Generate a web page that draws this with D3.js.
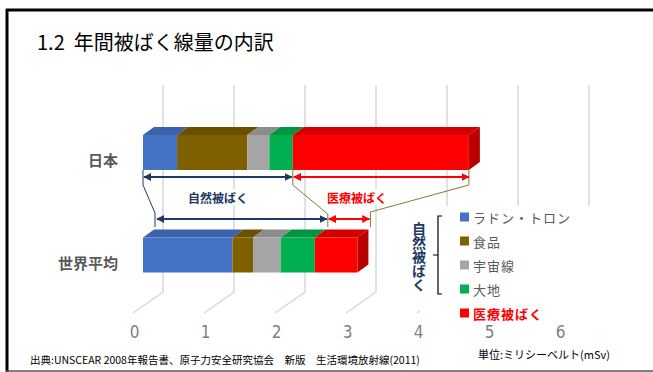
<!DOCTYPE html>
<html lang="ja">
<head>
<meta charset="UTF-8">
<title>年間被ばく線量の内訳</title>
<script src="https://cdn.jsdelivr.net/npm/d3@7"></script>
<style>
  body { margin: 0; background: #fff; }
  text { font-family: "Noto Sans CJK JP", "Noto Sans", sans-serif; }
</style>
</head>
<body>
<script>
  // data (mSv)
  const categories = ["日本", "世界平均"];
  const sources = ["ラドン・トロン", "食品", "宇宙線", "大地", "医療被ばく"];
  const japan = [0.48, 0.99, 0.31, 0.33, 2.48];
  const world = [1.26, 0.29, 0.39, 0.48, 0.60];
  const ticks = [0, 1, 2, 3, 4, 5, 6];
  const naturalCount = 4; // first four sources are natural

  const frontColors = ["#4472c4", "#7f6000", "#a5a5a5", "#00b050", "#ff0000"];
  const topColors = ["#3a62ad", "#6a5000", "#8c8c8c", "#00963f", "#d40000"];
  const sideColor = "#b80000";
  const navy = "#203864";
  const olive = "#8c7332";

  const W = 653, H = 372;
  const depth = { dx: 11, dy: -8 };

  const svg = d3.select("body").append("svg")
    .attr("width", W).attr("height", H);

  const x = d3.scaleLinear().domain([0, 6]).range([143, 143 + 6 * 71]);
  const y = d3.scalePoint().domain(categories).range([152.5, 255]);
  const barH = 35;

  // frame
  svg.append("line").attr("x1", 7).attr("x2", 7).attr("y1", 9).attr("y2", H)
    .attr("stroke", "#000").attr("stroke-width", 3);
  svg.append("line").attr("x1", 6).attr("x2", W).attr("y1", 10).attr("y2", 10)
    .attr("stroke", "#000").attr("stroke-width", 3);
  svg.append("line").attr("x1", 6).attr("x2", W).attr("y1", 371).attr("y2", 371)
    .attr("stroke", "#555").attr("stroke-width", 1.5);

  svg.append("text").attr("x", 37).attr("y", 41)
    .attr("dominant-baseline", "central")
    .attr("font-size", 20).attr("fill", "#000")
    .text("1.2\u00a0\u00a0年間被ばく線量の内訳");

  // 3D gridlines: back wall + floor
  const grid = svg.append("g").attr("stroke", "#d9d9d9").attr("stroke-width", 1.5).attr("fill", "none");
  ticks.forEach(t => {
    const bx = x(t) + 20;
    grid.append("path").attr("d", `M${bx},85 V292 L${bx - 30},313`);
  });

  // axis labels
  const axis = d3.axisBottom(x).tickValues(ticks).tickSize(0).tickPadding(0).tickFormat(d3.format("d"));
  const ag = svg.append("g").attr("transform", "translate(-9,326)").call(axis);
  ag.select(".domain").remove();
  ag.selectAll("text")
    .attr("font-size", 17).attr("fill", "#7f7f7f")
    .style("font-family", "'Liberation Sans Narrow', 'DejaVu Sans Condensed', sans-serif");

  // bars
  function drawBar(cat, vals) {
    const g = svg.append("g");
    const yTop = y(cat) - barH / 2, yBot = yTop + barH;
    let acc = 0;
    const segs = vals.map((v, i) => {
      const s = { i, x0: x(acc), x1: x(acc + v) };
      acc += v;
      return s;
    });
    segs.forEach(s => {
      g.append("path")
        .attr("d", `M${s.x0},${yTop} L${s.x1},${yTop} L${s.x1 + depth.dx},${yTop + depth.dy} L${s.x0 + depth.dx},${yTop + depth.dy}Z`)
        .attr("fill", topColors[s.i]);
    });
    const last = segs[segs.length - 1];
    g.append("path")
      .attr("d", `M${last.x1},${yTop} L${last.x1 + depth.dx},${yTop + depth.dy} L${last.x1 + depth.dx},${yBot + depth.dy} L${last.x1},${yBot}Z`)
      .attr("fill", sideColor);
    segs.forEach(s => {
      g.append("rect")
        .attr("x", s.x0).attr("y", yTop)
        .attr("width", s.x1 - s.x0).attr("height", barH)
        .attr("fill", frontColors[s.i]);
    });
    svg.append("text")
      .attr("x", 118).attr("y", y(cat) + 7)
      .attr("text-anchor", "end").attr("dominant-baseline", "central")
      .attr("font-size", 15).attr("font-weight", "bold").attr("fill", "#595959")
      .text(cat);
  }
  drawBar(categories[0], japan);
  drawBar(categories[1], world);

  // annotations
  const jpNat = d3.sum(japan.slice(0, naturalCount));
  const jpAll = d3.sum(japan);
  const wNat = d3.sum(world.slice(0, naturalCount));
  const wAll = d3.sum(world);

  const defs = svg.append("defs");
  [["n", navy], ["r", "#ff0000"]].forEach(([id, c]) => {
    defs.append("marker").attr("id", "a" + id)
      .attr("viewBox", "0 0 10 10").attr("refX", 9).attr("refY", 5)
      .attr("markerWidth", 4).attr("markerHeight", 4).attr("orient", "auto-start-reverse")
      .append("path").attr("d", "M0,0 L10,5 L0,10Z").attr("fill", c);
  });

  function arrow(x1, x2, yy, id, c) {
    svg.append("line").attr("x1", x1).attr("x2", x2).attr("y1", yy).attr("y2", yy)
      .attr("stroke", c).attr("stroke-width", 2)
      .attr("marker-start", `url(#a${id})`).attr("marker-end", `url(#a${id})`);
  }

  const jBot = y(categories[0]) + barH / 2;
  const wOff = 13;
  // connectors
  svg.append("path").attr("fill", "none").attr("stroke", navy).attr("stroke-width", 1)
    .attr("d", `M${x(0)},${jBot} V185 L${x(0) + wOff - 1},213 V227`);
  svg.append("path").attr("fill", "none").attr("stroke", olive).attr("stroke-width", 1)
    .attr("d", `M${x(jpNat)},${jBot} V185 L${x(wNat) + wOff},214 V227`);
  svg.append("path").attr("fill", "none").attr("stroke", olive).attr("stroke-width", 1)
    .attr("d", `M${x(jpAll)},${jBot} V185 L${x(wAll) + wOff},212 V227`);

  arrow(x(0) + 1, x(jpNat) - 1, 177, "n", navy);
  arrow(x(jpNat) + 1, x(jpAll), 177, "r", "#ff0000");
  arrow(x(0) + wOff + 1, x(wNat) + wOff - 1, 219, "n", navy);
  arrow(x(wNat) + wOff + 1, x(wAll) + wOff - 1, 219, "r", "#ff0000");

  function label(cx, txt, c) {
    svg.append("rect").attr("x", cx - 32).attr("y", 189).attr("width", 64).attr("height", 16).attr("fill", "#fff");
    svg.append("text").attr("x", cx).attr("y", 197)
      .attr("text-anchor", "middle").attr("dominant-baseline", "central")
      .attr("font-size", 12).attr("font-weight", "bold").attr("fill", c)
      .text(txt);
  }
  label(218, "自然被ばく", navy);
  label(357, "医療被ばく", "#ff0000");

  // legend
  const lg = svg.append("g");
  lg.append("rect").attr("x", 420).attr("y", 206).attr("width", 185).attr("height", 117).attr("fill", "#fff");
  lg.append("path").attr("fill", "none").attr("stroke", "#000").attr("stroke-width", 1.2)
    .attr("d", "M442,216 H438 V294 H442 M438,255 H433");
  lg.append("text").attr("x", 419).attr("y", 222)
    .attr("text-anchor", "start").attr("font-size", 14).attr("font-weight", "bold").attr("fill", navy)
    .attr("writing-mode", "vertical-rl")
    .text("自然被ばく");
  const ly = [217, 241, 265, 289, 313];
  sources.forEach((s, i) => {
    lg.append("rect").attr("x", 460).attr("y", ly[i] - 4.5).attr("width", 9).attr("height", 9).attr("fill", frontColors[i]);
    lg.append("text").attr("x", 473).attr("y", ly[i])
      .attr("dominant-baseline", "central").attr("font-size", 13)
      .attr("letter-spacing", 1)
      .attr("font-weight", i === 4 ? "bold" : "normal")
      .attr("fill", i === 4 ? "#ff0000" : "#595959")
      .text(s);
  });

  // notes
  svg.append("text").attr("x", 30).attr("y", 359).attr("dominant-baseline", "central")
    .attr("font-size", 10.5).attr("fill", "#000")
    .text("出典:UNSCEAR 2008年報告書、原子力安全研究協会\u3000新版\u3000生活環境放射線(2011)");
  svg.append("text").attr("x", 478).attr("y", 354).attr("dominant-baseline", "central")
    .attr("font-size", 11).attr("fill", "#000")
    .text("単位:ミリシーベルト(mSv)");
</script>
</body>
</html>
